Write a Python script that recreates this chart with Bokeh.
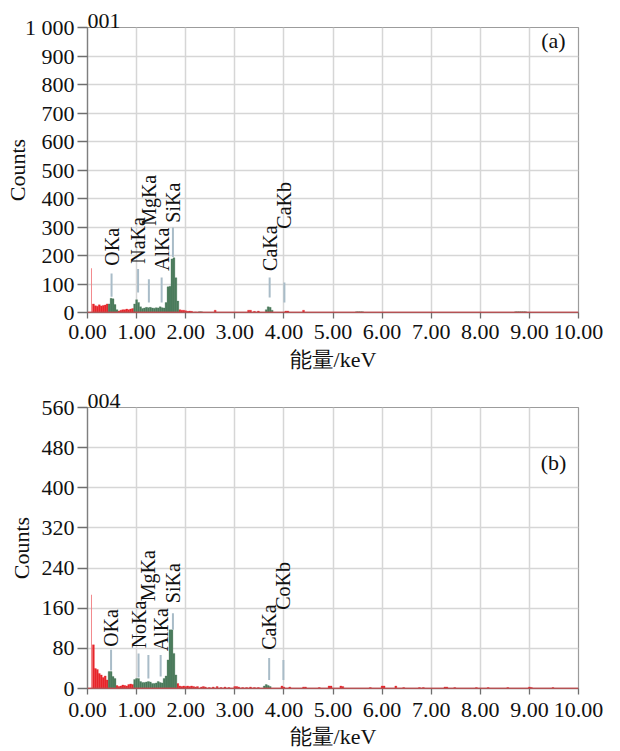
from math import pi
from bokeh.plotting import figure
from bokeh.layouts import column
from bokeh.models import (FixedTicker, NumeralTickFormatter, Span, Label,
                          ColumnDataSource, Range1d)
from bokeh.embed import file_html
from bokeh.resources import INLINE
from bokeh.core.properties import value

# ---------------- data ----------------
x_ticks = [0, 1, 2, 3, 4, 5, 6, 7, 8, 9, 10]
a_y_ticks = [0, 100, 200, 300, 400, 500, 600, 700, 800, 900, 1000]
b_y_ticks = [0, 80, 160, 240, 320, 400, 480, 560]

# panel (a) spectrum 001
a_spike_keV = [0.08]
a_spike_counts = [155]
a_red_keV = [0.12, 0.16, 0.20, 0.24, 0.28, 0.32, 0.36, 0.40,
             0.64, 0.68, 0.72, 0.76, 0.80, 0.84, 0.88, 0.92,
             1.88, 1.92, 1.96, 2.00, 2.04, 2.08, 2.12, 2.20,
             2.60, 3.28, 3.32, 3.40, 3.48, 4.04, 4.08, 4.40]
a_red_counts = [30, 24, 22, 27, 23, 25, 26, 30,
                5, 8, 10, 10, 12, 10, 12, 14,
                10, 8, 8, 6, 4, 5, 4, 2,
                8, 8, 8, 4, 5, 5, 5, 8]
a_green_keV = [0.44, 0.48, 0.52, 0.56, 0.60,
               0.96, 1.00, 1.04, 1.08, 1.12, 1.16, 1.20, 1.24, 1.28, 1.32,
               1.36, 1.40, 1.44, 1.48, 1.52, 1.56, 1.60, 1.64, 1.68, 1.72,
               1.76, 1.80, 1.84,
               2.28, 2.32, 3.64, 3.68, 3.72, 3.76,
               5.48, 5.52, 5.56, 5.60, 8.72, 8.76, 8.80, 8.84, 8.88, 8.92]
a_green_counts = [30, 50, 48, 28, 10,
                  30, 45, 35, 20, 14, 16, 18, 17, 18, 16,
                  15, 17, 16, 20, 17, 16, 35, 90, 92, 188,
                  192, 122, 40,
                  3, 3, 10, 20, 18, 8,
                  3, 3, 3, 3, 3, 3, 3, 3, 3, 3]
a_lines = ["OKa", "NaKa", "MgKa", "AlKa", "SiKa", "CaKa", "CaKb"]
a_line_keV = [0.49, 1.03, 1.25, 1.51, 1.74, 3.71, 4.01]
a_marker_low = [55, 70, 35, 35, 195, 53, 35]
a_marker_high = [137, 153, 117, 123, 298, 123, 105]
a_label_base = [164, 171, 304, 146, 315, 146, 294]

# panel (b) spectrum 004
b_spike_keV = [0.08]
b_spike_counts = [187]
b_red_keV = [0.12, 0.16, 0.20, 0.24, 0.28, 0.32, 0.36, 0.40,
             0.60, 0.64, 0.68, 0.72, 0.76, 0.80, 0.84, 0.88, 0.92,
             1.84, 1.88, 1.92, 1.96, 2.00, 2.04, 2.08, 2.12, 2.16, 2.20,
             2.24, 2.32, 2.36, 2.40, 2.48, 2.56, 2.64, 2.72, 2.80, 2.88,
             3.00, 3.04, 3.08, 3.16, 3.24, 3.32, 3.40, 3.48, 3.96, 4.00,
             4.12, 4.40, 4.44, 4.72, 4.92, 4.96, 5.16, 5.20, 5.76, 6.00,
             6.04, 6.28, 6.44, 6.76, 6.84, 7.28, 7.32, 7.48, 7.92, 8.16,
             8.56, 9.00, 9.04, 9.48]
b_red_counts = [87, 40, 38, 30, 27, 22, 25, 17,
                6, 4, 5, 7, 6, 5, 8, 9, 8,
                10, 5, 4, 5, 4, 5, 4, 5, 4, 3,
                4, 3, 4, 3, 2, 3, 4, 2, 3, 2,
                4, 4, 3, 2, 2, 3, 2, 2, 5, 3,
                3, 3, 3, 2, 5, 5, 5, 4, 2, 5,
                5, 5, 2, 2, 2, 3, 3, 2, 2, 2,
                2, 3, 2, 2]
b_green_keV = [0.44, 0.48, 0.52, 0.56,
               0.96, 1.00, 1.04, 1.08, 1.12, 1.16, 1.20, 1.24, 1.28, 1.32,
               1.36, 1.40, 1.44, 1.48, 1.52, 1.56, 1.60, 1.64, 1.68, 1.72,
               1.76, 1.80,
               3.60, 3.64, 3.68, 3.72]
b_green_counts = [34, 34, 24, 20,
                  18, 20, 20, 14, 12, 12, 13, 14, 13, 10,
                  10, 11, 14, 12, 11, 20, 25, 57, 117, 117,
                  70, 27,
                  5, 8, 6, 4]
b_lines = ["OKa", "NoKa", "MgKa", "AlKa", "SiKa", "CaKa", "CoKb"]
b_line_keV = [0.48, 1.04, 1.24, 1.49, 1.74, 3.70, 3.99]
b_marker_low = [36, 22, 20, 24, 117, 17, 17]
b_marker_high = [77, 70, 67, 67, 150, 61, 57]
b_label_base = [83, 80, 174, 74, 170, 77, 157]

y_title = "Counts"
x_title = "能量/keV"

# ---------------- styling ----------------
SERIF = "Liberation Serif"
RED = "#e8262b"
PINK = "#f07a7d"
GREEN = "#4b7b5c"
MARK = "#a9bcc8"
GRID = "#d6d6d6"
BIN = 0.04


def make_panel(tag, letter, y_max, y_ticks, y_over,
               spike_e, spike_c, red_e, red_c, green_e, green_c,
               lines, line_e, m_lo, m_hi, lab_base, letter_y,
               height, left, right, top, bottom, ylab_standoff,
               xtick_standoff, xlab_standoff):
    p = figure(width=612, height=height, output_backend="svg",
               toolbar_location=None, title=tag,
               x_range=Range1d(0, 10), y_range=Range1d(0, y_max),
               min_border_left=left, min_border_right=right,
               min_border_top=top, min_border_bottom=bottom)
    p.title.text_font = SERIF
    p.title.text_font_size = "22px"
    p.title.text_font_style = "normal"
    p.title.text_color = "#111111"
    p.title.align = "left"
    p.title.standoff = 0
    p.title.offset = 0
    p.background_fill_color = "white"
    p.border_fill_color = "white"
    p.outline_line_color = "#9c9c9c"
    p.outline_line_width = 1.2

    # grids
    p.xgrid.grid_line_color = GRID
    p.ygrid.grid_line_color = GRID
    p.xgrid.grid_line_width = 1.5
    p.ygrid.grid_line_width = 1.5

    # axes
    for ax in (p.xaxis[0], p.yaxis[0]):
        ax.axis_line_color = "#7f7f7f"
        ax.axis_line_width = 1.3
        ax.major_tick_line_color = "#6f6f6f"
        ax.major_tick_line_width = 1.3
        ax.minor_tick_line_color = None
        ax.major_tick_in = 0
        ax.major_label_text_font = SERIF
        ax.major_label_text_font_size = "22px"
        ax.major_label_text_color = "#111111"
        ax.axis_label_text_font = SERIF
        ax.axis_label_text_font_size = "22px"
        ax.axis_label_text_font_style = "normal"
        ax.axis_label_text_color = "#111111"

    p.xaxis.ticker = FixedTicker(ticks=x_ticks)
    p.xaxis.formatter = NumeralTickFormatter(format="0.00")
    p.xaxis.major_tick_out = 6
    p.xaxis.major_label_standoff = xtick_standoff
    p.xaxis.axis_label = x_title
    p.xaxis.axis_label_standoff = xlab_standoff

    p.yaxis.ticker = FixedTicker(ticks=y_ticks)
    p.yaxis.major_label_overrides = y_over
    p.yaxis.major_tick_out = 10
    p.yaxis.major_label_standoff = 3
    p.yaxis.axis_label = y_title
    p.yaxis.axis_label_standoff = ylab_standoff

    # red zero line of the spectrum
    p.add_layout(Span(location=0, dimension="width", line_color=RED,
                      line_width=1.5))

    # spectrum bars
    p.vbar(x=spike_e, top=spike_c, width=0.018, color=PINK, line_width=0)
    p.vbar(x=red_e, top=red_c, width=BIN, fill_color=RED, line_color=RED,
           line_width=0.3)
    p.vbar(x=green_e, top=green_c, width=BIN, fill_color=GREEN,
           line_color=GREEN, line_width=0.3)

    # peak markers
    p.segment(x0=line_e, y0=m_lo, x1=line_e, y1=m_hi, line_color=MARK,
              line_width=2)
    src = ColumnDataSource(dict(x=line_e, y=lab_base, t=lines))
    p.text(x="x", y="y", text="t", source=src, angle=pi / 2,
           text_align="left", text_baseline="middle",
           text_font=value(SERIF), text_font_size="20px",
           text_color="#111111")

    # panel letter
    p.add_layout(Label(x=9.49, y=letter_y, text=letter, text_font=SERIF,
                       text_font_size="22px", text_baseline="middle",
                       text_align="center", text_color="#111111"))
    return p


p1 = make_panel("001", "(a)", 1000, a_y_ticks, {1000: "1 000"},
                a_spike_keV, a_spike_counts, a_red_keV, a_red_counts,
                a_green_keV, a_green_counts,
                a_lines, a_line_keV, a_marker_low, a_marker_high,
                a_label_base, 955,
                378, 87, 34, 27, 66, -8, 6, 5)
p2 = make_panel("004", "(b)", 560, b_y_ticks, {},
                b_spike_keV, b_spike_counts, b_red_keV, b_red_counts,
                b_green_keV, b_green_counts,
                b_lines, b_line_keV, b_marker_low, b_marker_high,
                b_label_base, 450,
                373, 85, 32, 29, 63, 5, 8, 4)

layout = column(p1, p2)
open("out.html", "w").write(file_html(layout, INLINE))
